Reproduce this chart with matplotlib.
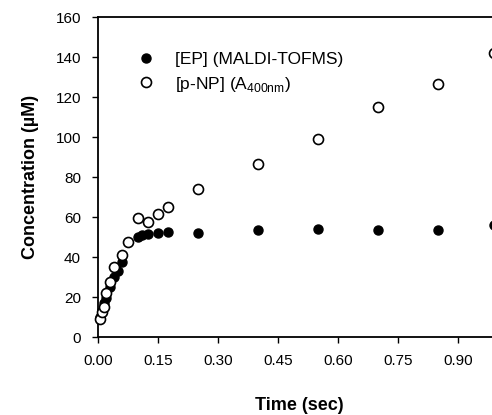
import matplotlib
matplotlib.use("Agg")
import matplotlib.pyplot as plt
import numpy as np

plt.rcParams['font.family'] = ['Liberation Sans', 'DejaVu Sans']

# [EP] measured by MALDI-TOFMS (filled circles)
ep_time = [0.005, 0.01, 0.015, 0.02, 0.03, 0.04, 0.05, 0.06, 0.1, 0.11, 0.125, 0.15, 0.175,
           0.25, 0.4, 0.55, 0.7, 0.85, 0.99]
ep_conc = [10, 13, 17, 19.5, 25, 30, 33, 37.5, 50, 51, 51.5, 52, 52.7,
           52.2, 53.5, 54.3, 53.5, 53.5, 56]

# [p-NP] from A400nm (open circles)
pnp_time = [0.005, 0.01, 0.015, 0.02, 0.03, 0.04, 0.06, 0.075, 0.1, 0.125, 0.15, 0.175,
            0.25, 0.4, 0.55, 0.7, 0.85, 0.99]
pnp_conc = [8.8, 12.7, 15.2, 21.8, 27.7, 35.3, 41, 47.6, 59.6, 57.8, 61.4, 65.2,
            74.3, 86.8, 99.3, 115.2, 126.8, 142]

xticks = [0.00, 0.15, 0.30, 0.45, 0.60, 0.75, 0.90]
yticks = [0, 20, 40, 60, 80, 100, 120, 140, 160]

fig = plt.figure(figsize=(4.92, 4.15), dpi=100)
# axes runs off the right edge, like the cropped original
ax = fig.add_axes([97.7/492, 78/415, 404/492, 319.5/415])

ax.plot(ep_time, ep_conc, 'o', color='black', markersize=6.5,
        label='[EP] (MALDI-TOFMS)', clip_on=False, zorder=3)
ax.plot(pnp_time, pnp_conc, 'o', markerfacecolor='white', markeredgecolor='black',
        markeredgewidth=1.2, markersize=7.2,
        label='[p-NP] (A$_{\\mathregular{400nm}}$)', clip_on=False, zorder=4)

ax.set_xlim(0, 1.01)
ax.set_ylim(0, 160)
ax.set_xticks(xticks)
ax.set_xticklabels(['%.2f' % t for t in xticks])
ax.set_yticks(yticks)

ax.spines['right'].set_visible(False)
for s in ['top', 'left', 'bottom']:
    ax.spines[s].set_linewidth(1.3)
ax.tick_params(direction='out', length=4, width=1, labelsize=11, pad=8)

ax.set_xlabel('Time (sec)', fontsize=13, fontweight='bold', labelpad=21)
ax.set_ylabel('Concentration (\u00b5M)', fontsize=13, fontweight='bold', labelpad=12)

leg = ax.legend(loc='upper left', bbox_to_anchor=(0.06, 0.915), frameon=False,
                fontsize=12.5, handletextpad=0.65, labelspacing=0.45, borderaxespad=0)

plt.savefig('out.png', dpi=100)
